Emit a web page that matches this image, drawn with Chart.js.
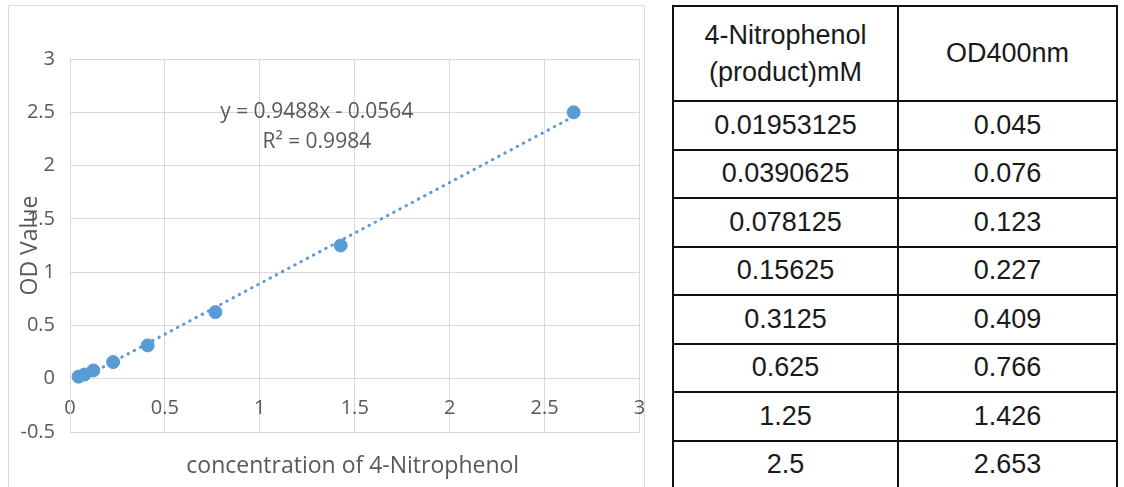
<!DOCTYPE html>
<html>
<head>
<meta charset="utf-8">
<script src="https://cdn.jsdelivr.net/npm/chart.js"></script>
<style>
    html, body { margin: 0; padding: 0; background: #fff; width: 1124px; height: 487px; overflow: hidden; }
    #chartBox { position: absolute; left: 8px; top: 5px; width: 635px; height: 500px; border: 1px solid #dcdcdc; }
    #chartWrap { position: absolute; left: 9px; top: 6px; width: 638px; height: 481px; }
    #dataTable {
        position: absolute; left: 672px; top: 5px;
        border-collapse: collapse; table-layout: fixed;
        font-family: "Liberation Sans", Arial, sans-serif; font-size: 27px; color: #1a1a1a;
    }
    #dataTable td { border: 2px solid #111; text-align: center; vertical-align: middle; padding: 0; }
    #dataTable tr.head td { height: 93px; line-height: 37px; }
    #dataTable tr.row td { height: 46.5px; }
</style>
</head>
<body>
<div id="chartBox"></div>
<div id="chartWrap"><canvas id="odChart"></canvas></div>
<table id="dataTable">
    <colgroup><col style="width:225px"><col style="width:219px"></colgroup>
    <tbody id="tableBody"></tbody>
</table>
<script>
// Standard curve data (table values)
const concentrations = [0.01953125, 0.0390625, 0.078125, 0.15625, 0.3125, 0.625, 1.25, 2.5];
const odValues = [0.045, 0.076, 0.123, 0.227, 0.409, 0.766, 1.426, 2.653];
const concLabels = ["0.01953125", "0.0390625", "0.078125", "0.15625", "0.3125", "0.625", "1.25", "2.5"];
const odLabels = ["0.045", "0.076", "0.123", "0.227", "0.409", "0.766", "1.426", "2.653"];

// Axis ticks
const xTickValues = [0, 0.5, 1, 1.5, 2, 2.5, 3];
const xTickLabels = ["0", "0.5", "1", "1.5", "2", "2.5", "3"];
const yTickValues = [-0.5, 0, 0.5, 1, 1.5, 2, 2.5, 3];
const yTickLabels = ["-0.5", "0", "0.5", "1", "1.5", "2", "2.5", "3"];

// Linear trendline as shown on the chart
const trendSlope = 0.9488;
const trendIntercept = -0.0564;
const trendR2 = 0.9984;

const xTitle = "concentration of 4-Nitrophenol";
const yTitle = "OD Value";
const headers = ["4-Nitrophenol<br>(product)mM", "OD400nm"];

const BLUE = "#5b9bd5";
const GRID = "#d9d9d9";
const TEXT = "#595959";

document.addEventListener('DOMContentLoaded', function() {
    buildTable();
    initChart();
});

// Fill the table on the right
function buildTable() {
    const body = document.getElementById("tableBody");
    let html = '<tr class="head"><td>' + headers[0] + '</td><td>' + headers[1] + '</td></tr>';
    for (let i = 0; i < concLabels.length; i++) {
        html += '<tr class="row"><td>' + concLabels[i] + '</td><td>' + odLabels[i] + '</td></tr>';
    }
    body.innerHTML = html;
}

// Axis titles and trendline equation, drawn like Excel does
const labelPlugin = {
    id: 'excelLabels',
    afterDraw(chart) {
        const ctx = chart.ctx;
        const area = chart.chartArea;
        const xs = chart.scales.x;
        const ys = chart.scales.y;
        ctx.save();
        ctx.fillStyle = TEXT;
        ctx.textAlign = 'center';
        ctx.textBaseline = 'middle';

        ctx.font = '21px "Open Sans"';
        const lx = xs.getPixelForValue(1.3);
        const ly = ys.getPixelForValue(2.5);
        ctx.fillText("y = " + trendSlope + "x - " + Math.abs(trendIntercept), lx, ly);
        ctx.fillText("R\u00b2 = " + trendR2, lx, ly + 30);

        ctx.font = '23px "Open Sans"';
        ctx.fillText(xTitle, (area.left + area.right) / 2 - 2, 460);
        ctx.translate(21, (area.top + area.bottom) / 2);
        ctx.rotate(-Math.PI / 2);
        ctx.fillText(yTitle, 0, 0);
        ctx.restore();
    }
};

function initChart() {
    const ctx = document.getElementById("odChart").getContext("2d");

    const points = odValues.map((v, i) => ({ x: v, y: concentrations[i] }));
    const xMin = odValues[0];
    const xMax = odValues[odValues.length - 1];
    const trend = [
        { x: xMin, y: trendSlope * xMin + trendIntercept },
        { x: xMax, y: trendSlope * xMax + trendIntercept }
    ];

    new Chart(ctx, {
        type: "scatter",
        data: {
            datasets: [{
                label: "OD",
                data: points,
                backgroundColor: BLUE,
                borderColor: BLUE,
                pointRadius: 6.5,
                order: 0
            }, {
                type: "line",
                label: "Linear",
                data: trend,
                borderColor: BLUE,
                borderWidth: 3,
                borderDash: [0.5, 6.5],
                borderCapStyle: 'round',
                pointRadius: 0,
                fill: false,
                order: 1
            }]
        },
        options: {
            responsive: true,
            maintainAspectRatio: false,
            animation: false,
            layout: { padding: { left: 0, right: 7, top: 53, bottom: 55 } },
            plugins: {
                legend: { display: false },
                tooltip: { enabled: false }
            },
            scales: {
                x: {
                    type: 'linear',
                    position: { y: 0 },
                    min: 0,
                    max: 3,
                    afterBuildTicks: s => { s.ticks = xTickValues.map(v => ({ value: v })); },
                    afterFit: s => { s.paddingLeft = 0; s.paddingRight = 0; },
                    grid: { color: GRID, drawTicks: false },
                    border: { color: GRID },
                    ticks: {
                        color: TEXT, padding: 18, maxRotation: 0,
                        font: { family: 'Open Sans', size: 20 },
                        callback: (v, i) => xTickLabels[i]
                    }
                },
                y: {
                    type: 'linear',
                    min: -0.5,
                    max: 3,
                    afterBuildTicks: s => { s.ticks = yTickValues.map(v => ({ value: v })); },
                    afterFit: s => { s.width = 61; },
                    grid: { color: GRID, drawTicks: false },
                    border: { color: GRID },
                    ticks: {
                        color: TEXT, padding: 15,
                        font: { family: 'Open Sans', size: 20 },
                        callback: (v, i) => yTickLabels[i]
                    }
                }
            }
        },
        plugins: [labelPlugin]
    });
}
</script>
</body>
</html>
